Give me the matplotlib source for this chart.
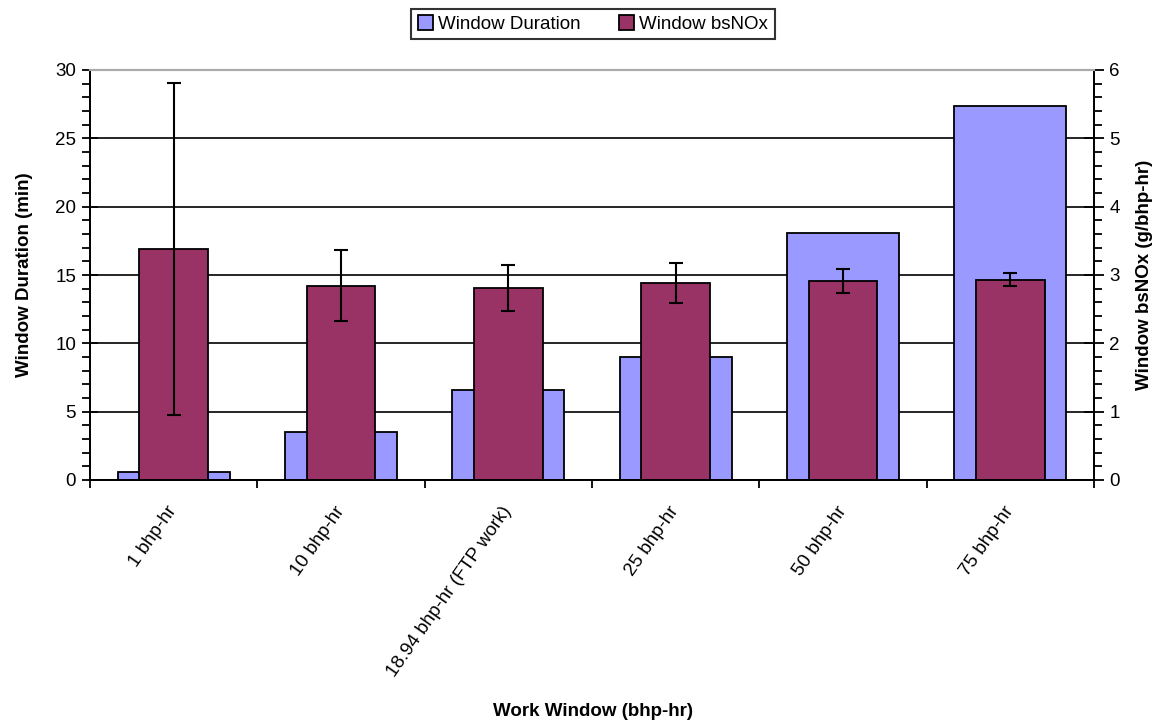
import matplotlib
matplotlib.use("Agg")
import matplotlib.pyplot as plt
import numpy as np
from matplotlib.patches import Patch
from matplotlib.ticker import MultipleLocator

plt.rcParams['font.family'] = ['Liberation Sans', 'DejaVu Sans']

categories = ["1 bhp-hr", "10 bhp-hr", "18.94 bhp-hr (FTP work)", "25 bhp-hr", "50 bhp-hr", "75 bhp-hr"]
duration_min = [0.6, 3.5, 6.6, 9.0, 18.05, 27.4]
bsnox = [3.38, 2.84, 2.81, 2.88, 2.91, 2.93]
bsnox_err = [2.43, 0.52, 0.34, 0.29, 0.175, 0.095]

blue = "#9999FF"
maroon = "#993366"
FS = 13.5

fig = plt.figure(figsize=(11.55, 7.23), dpi=100)
ax = fig.add_axes([90/1155, 1-480/723, (1094-90)/1155, (480-70)/723])
ax2 = ax.twinx()

x = np.arange(len(categories))
ax.bar(x, duration_min, width=0.67, color=blue, edgecolor="black", linewidth=1.3, zorder=2)
ax2.bar(x, bsnox, width=0.41, color=maroon, edgecolor="black", linewidth=1.3, zorder=2,
        yerr=bsnox_err, error_kw=dict(ecolor="black", elinewidth=1.5, capsize=5, capthick=1.5))

ax.set_xlim(-0.5, len(categories) - 0.5)
ax.set_ylim(0, 30)
ax2.set_ylim(0, 6)
ax.yaxis.set_major_locator(MultipleLocator(5))
ax.yaxis.set_minor_locator(MultipleLocator(1))
ax2.yaxis.set_major_locator(MultipleLocator(1))
ax2.yaxis.set_minor_locator(MultipleLocator(0.2))

ax.set_axisbelow(True)
ax.grid(axis="y", which="major", color="black", linewidth=1.2, zorder=0)

for a in (ax, ax2):
    a.spines["top"].set_color("#aaaaaa")
    a.spines["top"].set_linewidth(1.5)
    for s in ("left", "right", "bottom"):
        a.spines[s].set_linewidth(1.3)

ax.tick_params(axis="y", which="major", direction="inout", length=12, width=1.3, labelsize=FS, colors="black", pad=4)
ax.tick_params(axis="y", which="minor", direction="out", length=6, width=1.3)
ax2.tick_params(axis="y", which="major", direction="inout", length=14, width=1.3, labelsize=FS, pad=4)
ax2.tick_params(axis="y", which="minor", direction="out", length=6, width=1.3)

ax.set_xticks(x)
ax.set_xticklabels(categories, rotation=55, ha="right", va="center", rotation_mode="anchor", fontsize=FS)
ax.tick_params(axis="x", which="major", length=0, pad=20)
ax.set_xticks(np.arange(-0.5, len(categories), 1.0), minor=True)
ax.tick_params(axis="x", which="minor", direction="out", length=6, width=1.3)

ax.set_ylabel("Window Duration (min)", fontsize=FS, fontweight="bold", labelpad=16)
ax2.set_ylabel("Window bsNOx (g/bhp-hr)", fontsize=FS, fontweight="bold", labelpad=12)
fig.text(593/1155, 1-712/723, "Work Window (bhp-hr)", ha="center", va="center", fontsize=FS, fontweight="bold")

handles = [Patch(facecolor=blue, edgecolor="black", linewidth=1.3, label="Window Duration"),
           Patch(facecolor=maroon, edgecolor="black", linewidth=1.3, label="Window bsNOx")]
leg = fig.legend(handles=handles, loc="center", bbox_to_anchor=(593/1155, 1-24/723), ncol=2,
                 fontsize=FS, frameon=True, fancybox=False, edgecolor="black",
                 handlelength=0.8, handleheight=0.8, handletextpad=0.3, columnspacing=2.0,
                 borderpad=0.35)
leg.get_frame().set_linewidth(1.5)

fig.savefig("out.png", dpi=100)
